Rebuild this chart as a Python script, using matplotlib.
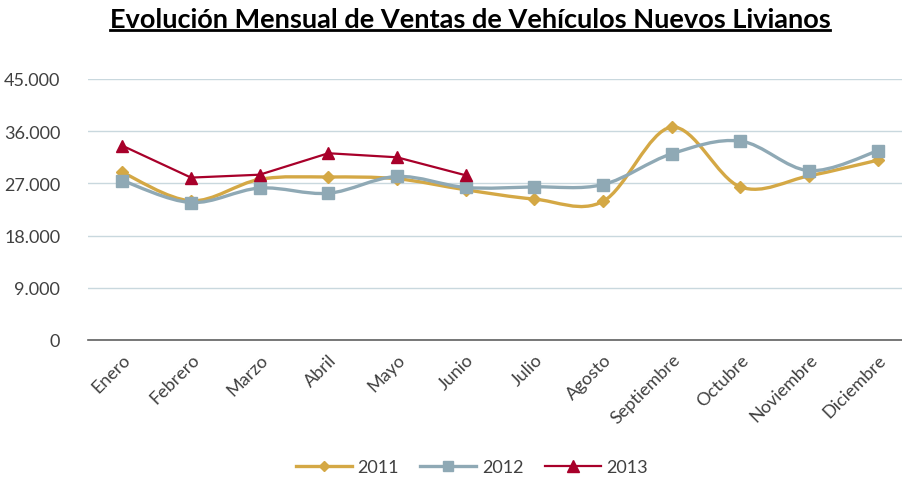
import numpy as np
import matplotlib
matplotlib.use('Agg')
import matplotlib.pyplot as plt
from matplotlib.path import Path
from matplotlib.patches import PathPatch
from matplotlib.lines import Line2D
from matplotlib.ticker import FuncFormatter

plt.rcParams['font.family'] = ['Lato', 'DejaVu Sans']

meses = ['Enero', 'Febrero', 'Marzo', 'Abril', 'Mayo', 'Junio', 'Julio',
         'Agosto', 'Septiembre', 'Octubre', 'Noviembre', 'Diciembre']
ventas_2011 = [28900, 24000, 27700, 28100, 27800, 25900, 24300, 23900, 36700, 26400, 28300, 31000]
ventas_2012 = [27500, 23700, 26200, 25300, 28200, 26300, 26400, 26800, 32100, 34300, 29200, 32600]
ventas_2013 = [33500, 28000, 28500, 32200, 31500, 28400]

COLOR_2011 = '#D4A845'
COLOR_2012 = '#8FA9B5'
COLOR_2013 = '#A8002A'


def curva_suave(xs, ys):
    """bezier tipo excel (linea suavizada) a partir de los puntos"""
    pts = np.column_stack([xs, ys]).astype(float)
    n = len(pts)
    verts = [pts[0]]
    codes = [Path.MOVETO]
    for i in range(n - 1):
        p0 = pts[i - 1] if i > 0 else pts[i]
        p1 = pts[i]
        p2 = pts[i + 1]
        p3 = pts[i + 2] if i + 2 < n else pts[i + 1]
        c1 = p1 + (p2 - p0) / 6.0
        c2 = p2 - (p3 - p1) / 6.0
        verts += [c1, c2, p2]
        codes += [Path.CURVE4] * 3
    return Path(verts, codes)


fig = plt.figure(figsize=(9.02, 4.81), dpi=100)
ax = fig.add_axes([88 / 902, 1 - 341 / 481, 824 / 902, 261 / 481])

x = np.arange(len(meses))

# 2011 y 2012 con linea suavizada, 2013 recta
for datos, color, marca, ms in [(ventas_2011, COLOR_2011, 'D', 6),
                                (ventas_2012, COLOR_2012, 's', 8)]:
    xx = x[:len(datos)]
    ax.add_patch(PathPatch(curva_suave(xx, datos), facecolor='none', edgecolor=color,
                           lw=2.4, zorder=3, capstyle='round', joinstyle='round'))
    ax.plot(xx, datos, linestyle='none', marker=marca, ms=ms, color=color, zorder=4)

ax.plot(x[:len(ventas_2013)], ventas_2013, color=COLOR_2013, lw=1.6, marker='^', ms=9, zorder=5)

ax.set_xlim(-0.5, 11.5)
ax.set_ylim(0, 45000)
ax.set_yticks(np.arange(0, 45001, 9000))
ax.yaxis.set_major_formatter(FuncFormatter(lambda v, p: '{:,.0f}'.format(v).replace(',', '.')))
ax.grid(axis='y', color='#C9D8DE', lw=1)
ax.set_axisbelow(True)
for s in ['left', 'right', 'top']:
    ax.spines[s].set_visible(False)
ax.spines['bottom'].set_color('#606060')
ax.spines['bottom'].set_linewidth(1.2)
ax.spines['bottom'].set_zorder(2)

ax.set_xticks(x)
ax.set_xticklabels(meses, rotation=45, ha='right', rotation_mode='anchor', fontsize=13, color='#404040')
ax.tick_params(axis='x', length=0, pad=8)
ax.tick_params(axis='y', length=0, pad=20, labelsize=13, labelcolor='#404040')

titulo = fig.text(470 / 902, 1 - 20 / 481, 'Evolución Mensual de Ventas de Vehículos Nuevos Livianos',
                  ha='center', va='center', fontsize=19.5, fontweight='bold', color='black')

handles = [Line2D([], [], color=COLOR_2011, lw=2.4, marker='D', ms=5),
           Line2D([], [], color=COLOR_2012, lw=2.4, marker='s', ms=7),
           Line2D([], [], color=COLOR_2013, lw=1.6, marker='^', ms=8)]
fig.legend(handles, ['2011', '2012', '2013'], loc='center', bbox_to_anchor=(472 / 902, 1 - 468 / 481),
           ncol=3, frameon=False, fontsize=13, handlelength=3.1, columnspacing=1.2, handletextpad=0.3,
           labelcolor='#404040')

# subrayado del titulo
fig.canvas.draw()
bb = titulo.get_window_extent().transformed(fig.transFigure.inverted())
fig.add_artist(Line2D([bb.x0, bb.x1], [bb.y0 + 0.002, bb.y0 + 0.002], color='black', lw=2,
                      transform=fig.transFigure))

fig.savefig('out.png', dpi=100)
